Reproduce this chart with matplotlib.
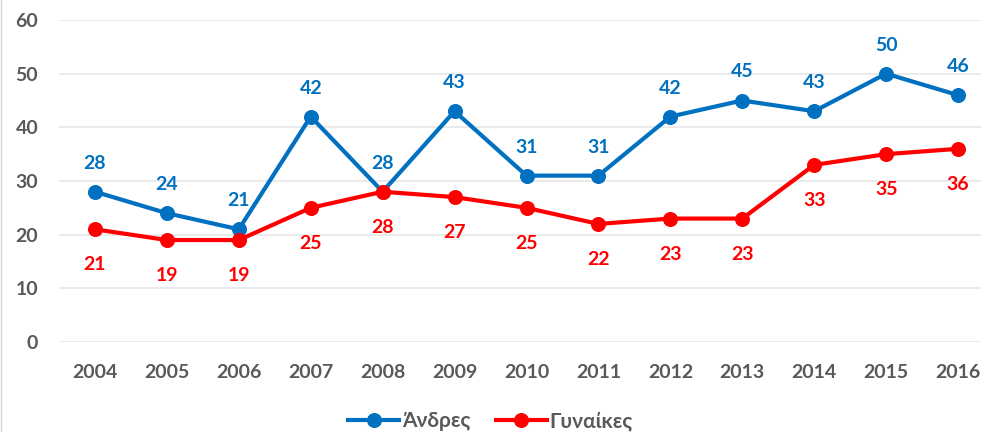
import matplotlib
matplotlib.use("Agg")
import matplotlib.pyplot as plt
from matplotlib.lines import Line2D

years = ["2004", "2005", "2006", "2007", "2008", "2009", "2010",
         "2011", "2012", "2013", "2014", "2015", "2016"]
men = [28, 24, 21, 42, 28, 43, 31, 31, 42, 45, 43, 50, 46]
women = [21, 19, 19, 25, 28, 27, 25, 22, 23, 23, 33, 35, 36]
labels_series = ["Άνδρες", "Γυναίκες"]

plt.rcParams['font.family'] = ['Lato', 'DejaVu Sans']
BLUE = "#0070C0"
RED = "#FF0000"
GRAY = "#595959"
FS = 14

W, H = 981, 432
fig = plt.figure(figsize=(W / 100, H / 100), dpi=100)
left, right = 59, 994
bottom, top = 342, 20
ax = fig.add_axes([left / W, (H - bottom) / H, (right - left) / W, (bottom - top) / H])

x = list(range(len(years)))
ax.plot(x, men, color=BLUE, lw=3.0, marker='o', ms=9.8, label=labels_series[0],
        solid_joinstyle='round', zorder=3)
ax.plot(x, women, color=RED, lw=3.0, marker='o', ms=9.8, label=labels_series[1],
        solid_joinstyle='round', zorder=3)

for xi, v in zip(x, men):
    ax.annotate(str(v), (xi, v), xytext=(0, 16.6), textcoords='offset points',
                ha='center', va='baseline', color=BLUE, fontsize=FS, fontweight='bold')
for xi, v in zip(x, women):
    ax.annotate(str(v), (xi, v), xytext=(0, -29.5), textcoords='offset points',
                ha='center', va='baseline', color=RED, fontsize=FS, fontweight='bold')

ax.set_xlim(-0.5, len(years) - 0.5)
ax.set_ylim(0, 60)
ax.set_yticks(range(0, 61, 10))
ax.set_xticks(x)
ax.set_xticklabels(years)
ax.grid(axis='y', color='#E6E6E6', lw=1.2)
ax.set_axisbelow(True)
for s in ax.spines.values():
    s.set_visible(False)
ax.tick_params(axis='both', length=0, colors=GRAY, labelsize=FS)
ax.tick_params(axis='x', pad=15.8)
ax.tick_params(axis='y', pad=15)
for t in ax.get_xticklabels() + ax.get_yticklabels():
    t.set_fontweight('bold')

leg = fig.legend(loc='center', bbox_to_anchor=(0.5, 1 - 421 / H), ncol=2, frameon=False,
                 fontsize=15, handlelength=2.45, columnspacing=1.2, handletextpad=0.15)
for t in leg.get_texts():
    t.set_color(GRAY)
    t.set_fontweight('bold')

fig.add_artist(Line2D([0.5 / W, 0.5 / W], [0, 1], transform=fig.transFigure,
                      color='#D9D9D9', lw=1))

fig.savefig("out.png", dpi=100)
